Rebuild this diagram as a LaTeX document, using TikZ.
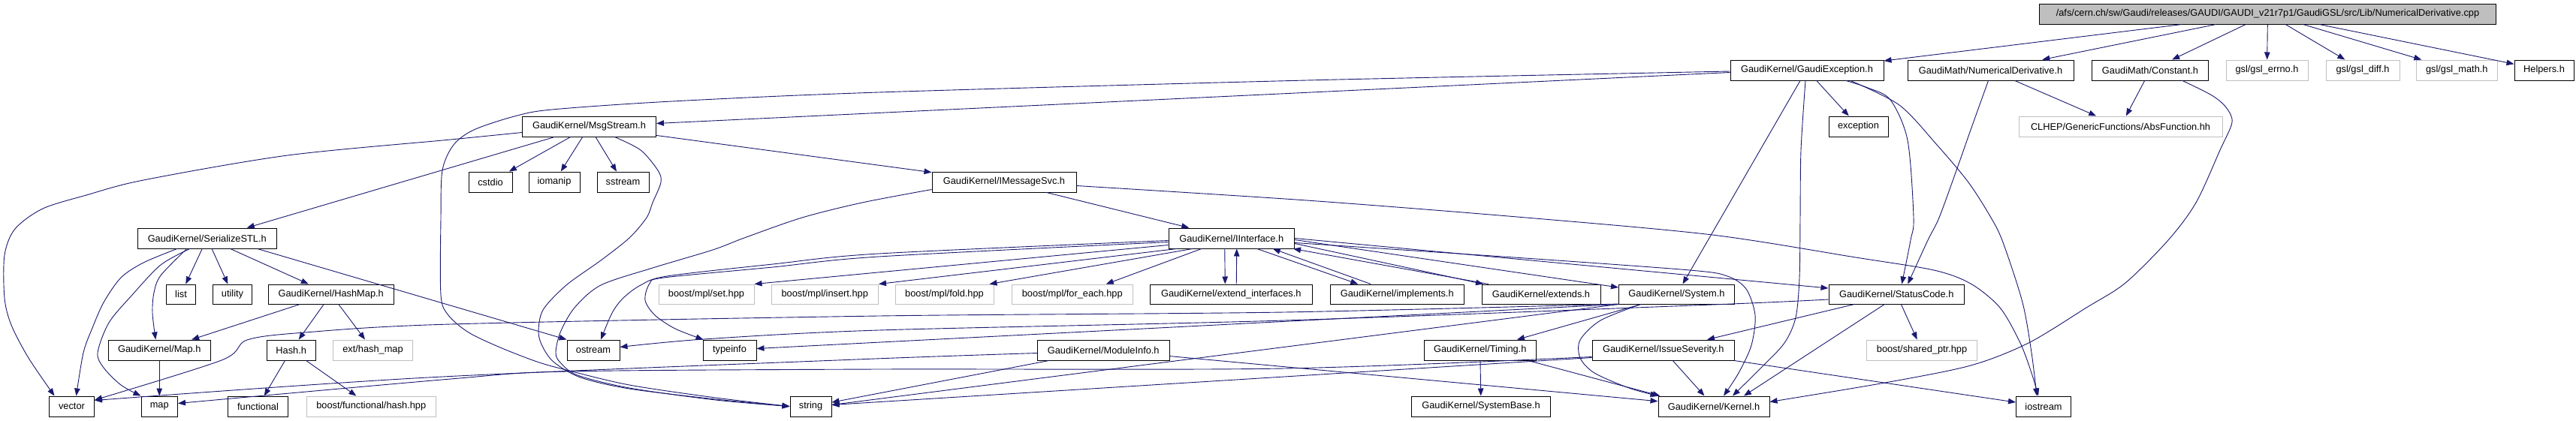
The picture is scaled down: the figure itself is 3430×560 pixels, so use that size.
\documentclass[tikz,border=0pt]{standalone}
\usepackage{fontspec}
\setmainfont{Liberation Sans}
\usetikzlibrary{arrows.meta}
\definecolor{edgec}{HTML}{191970}
\definecolor{gbord}{HTML}{BFBFBF}
\definecolor{rootfill}{HTML}{BFBFBF}
\newcommand\mknode[7]{\node[#1,minimum width={(#5)-(#4)},minimum height={(#7)-(#6)}] (#2) at ({((#4)+(#5))/2},{((#6)+(#7))/2}) {#3};}
\begin{document}
\begin{tikzpicture}[x=1pt,y=-1pt,
  box/.style={draw=black,line width=1pt,inner sep=0pt,font=\fontsize{12.8}{14}\selectfont},
  gbox/.style={box,draw=gbord},
  rootbox/.style={box,fill=rootfill},
  dep/.style={draw=edgec,line width=0.9pt,-{Triangle[length=10pt,width=7.5pt]}}]
\path[use as bounding box,fill=white] (0,0) rectangle (3430,560);
% row 0
\mknode{rootbox}{root}{/afs/cern.ch/sw/Gaudi/releases/GAUDI/GAUDI\_v21r7p1/GaudiGSL/src/Lib/NumericalDerivative.cpp}{2715.5}{3323.5}{5}{32}
% row 1
\mknode{box}{gexc}{GaudiKernel/GaudiException.h}{2304}{2508}{80}{107}
\mknode{box}{nder}{GaudiMath/NumericalDerivative.h}{2540}{2761}{80}{107}
\mknode{box}{const}{GaudiMath/Constant.h}{2785.5}{2940.5}{80}{107}
\mknode{gbox}{gerrno}{gsl/gsl\_errno.h}{2964}{3073}{80}{107}
\mknode{gbox}{gdiff}{gsl/gsl\_diff.h}{3097}{3195}{80}{107}
\mknode{gbox}{gmath}{gsl/gsl\_math.h}{3217}{3325.5}{80}{107}
\mknode{box}{helpers}{Helpers.h}{3348}{3427}{80}{107}
% row 2
\mknode{box}{msg}{GaudiKernel/MsgStream.h}{695.5}{873.5}{155}{182}
\mknode{box}{exc}{exception}{2435}{2514}{155}{182}
\mknode{gbox}{clhep}{CLHEP/GenericFunctions/AbsFunction.hh}{2688}{2959}{155}{182}
% row 3
\mknode{box}{cstdio}{cstdio}{624}{682}{229}{256}
\mknode{box}{iomanip}{iomanip}{704}{772}{229}{256}
\mknode{box}{sstream}{sstream}{795}{864}{229}{256}
\mknode{box}{imsg}{GaudiKernel/IMessageSvc.h}{1241}{1433}{229}{256}
% row 4
\mknode{box}{ser}{GaudiKernel/SerializeSTL.h}{183}{368.5}{304}{331}
\mknode{box}{iint}{GaudiKernel/IInterface.h}{1556}{1723.5}{304}{331}
% row 5
\mknode{box}{list}{list}{221.5}{260.5}{379}{405}
\mknode{box}{utility}{utility}{283.5}{335.5}{379}{405}
\mknode{box}{hashmap}{GaudiKernel/HashMap.h}{357.5}{524}{379}{405}
\mknode{gbox}{mset}{boost/mpl/set.hpp}{877}{1004}{379}{405}
\mknode{gbox}{minsert}{boost/mpl/insert.hpp}{1027}{1169.5}{379}{405}
\mknode{gbox}{mfold}{boost/mpl/fold.hpp}{1192}{1323}{379}{405}
\mknode{gbox}{mforeach}{boost/mpl/for\_each.hpp}{1347}{1508.5}{379}{405}
\mknode{box}{extif}{GaudiKernel/extend\_interfaces.h}{1531.5}{1747}{379}{405}
\mknode{box}{impl}{GaudiKernel/implements.h}{1771}{1949.5}{379}{405}
\mknode{box}{ext}{GaudiKernel/extends.h}{1973}{2131}{379}{405}
\mknode{box}{sys}{GaudiKernel/System.h}{2155.5}{2309.5}{379}{405}
\mknode{box}{sc}{GaudiKernel/StatusCode.h}{2435}{2615.5}{379}{405}
% row 6
\mknode{box}{mapk}{GaudiKernel/Map.h}{144}{280.5}{453}{480}
\mknode{box}{hash}{Hash.h}{355.5}{420}{453}{480}
\mknode{gbox}{exthm}{ext/hash\_map}{443.5}{549.5}{453}{480}
\mknode{box}{ostream}{ostream}{755}{825}{453}{480}
\mknode{box}{typeinfo}{typeinfo}{936}{1007}{453}{480}
\mknode{box}{modinfo}{GaudiKernel/ModuleInfo.h}{1381.5}{1557}{453}{480}
\mknode{box}{timing}{GaudiKernel/Timing.h}{1896}{2045.5}{453}{480}
\mknode{box}{issue}{GaudiKernel/IssueSeverity.h}{2120}{2309.5}{453}{480}
\mknode{gbox}{sptr}{boost/shared\_ptr.hpp}{2485.5}{2632.5}{453}{480}
% row 7
\mknode{box}{vector}{vector}{65.5}{125.5}{528}{555}
\mknode{box}{map}{map}{188}{236.5}{528}{555}
\mknode{box}{functional}{functional}{303.5}{383.5}{528}{555}
\mknode{gbox}{bfhash}{boost/functional/hash.hpp}{408}{580.5}{528}{555}
\mknode{box}{string}{string}{1052}{1107}{528}{555}
\mknode{box}{sysbase}{GaudiKernel/SystemBase.h}{1879.5}{2064.5}{528}{555}
\mknode{box}{kernel}{GaudiKernel/Kernel.h}{2208}{2356}{528}{555}
\mknode{box}{iostream}{iostream}{2684.5}{2757.5}{528}{555}
% ---- edges
\foreach \nn in {gexc,nder,const,gerrno,gdiff,gmath,helpers} \draw[dep] (root) -- (\nn);
% GaudiException
\draw[dep] ([yshift=-3pt]gexc.west) -- ([yshift=4pt]msg.east);
\draw[dep] plot[smooth] coordinates {([yshift=-1.5pt]gexc.west) (1740,107) (1170,123) (895,135) (735,146) (685,155) (631,173) (604,193) (589,227) (587,290) (587,393) (597,420) (624,443) (666,463) (715,482) (754,493) (838,513) (953,530) (string.west)};
\draw[dep] (gexc) -- (exc);
\draw[dep] ([xshift=-9pt]gexc.south) -- ([xshift=8pt]sys.north);
\draw[dep] plot[smooth] coordinates {([xshift=-2pt]gexc.south) (2398,200) (2397,290) (2396,370) (2391,423) (2376,457) (2345,490) ([xshift=25pt]kernel.north)};
\draw[dep] plot[smooth] coordinates {([xshift=52pt]gexc.south) (2487,117) (2517,133) (2540,187) (2548,290) (2544,320) ([xshift=7pt]sc.north)};
\draw[dep] plot[smooth] coordinates {([xshift=58pt]gexc.south) (2529,140) (2579,193) (2621,243) (2651,290) (2667,323) (2693,403) (2705,470) ([xshift=-9pt]iostream.north)};
% NumericalDerivative.h
\draw[dep] (nder) -- (clhep);
\draw[dep] plot[smooth] coordinates {([xshift=-3pt]nder.south) (2624,173) (2605,227) (2582,290) (2567,320) ([xshift=15pt]sc.north)};
% Constant.h
\draw[dep] (const) -- (clhep);
\draw[dep] plot[smooth] coordinates {([xshift=43pt]const.south) (2945,127) (2964,143) (2972,163) (2956,200) (2924,270) (2887,320) (2830,377) (2778,410) (2701,457) (2624,487) (2510,510) ([yshift=6pt]kernel.east)};
% MsgStream.h
\draw[dep] (msg) -- (cstdio);
\draw[dep] (msg) -- (iomanip);
\draw[dep] (msg) -- (sstream);
\draw[dep] (msg) -- (imsg);
\draw[dep] ([xshift=-46pt]msg.south) -- ([xshift=53pt]ser.north);
\draw[dep] plot[smooth] coordinates {([yshift=-8pt]msg.west) (600,186) (383,207) (191,240) (115,260) (57,278) (20,305) (6,340) (6,397) (15,433) (38,477) ([xshift=-23pt]vector.north)};
\draw[dep] plot[smooth] coordinates {([xshift=34pt]msg.south) (853,200) (876,227) (880,243) (869,270) (861,290) (838,317) (800,347) (754,380) (723,413) (717,443) (723,463) (738,483) (773,503) (838,518) (953,532) (string.west)};
% IMessageSvc.h
\draw[dep] (imsg) -- (iint);
\draw[dep] plot[smooth] coordinates {([yshift=-5pt]imsg.east) (1740,267) (2032,290) (2280,313) (2471,343) (2575,360) (2624,378) (2663,410) (2690,457) (2705,497) ([xshift=-7pt]iostream.north)};
\draw[dep] plot[smooth] coordinates {([yshift=-10pt]imsg.west) (1148,270) (1068,290) (991,317) (949,333) (869,357) (800,380) (765,410) (746,443) (740,470) (746,483) (769,500) (838,517) (953,533) (string.west)};
% SerializeSTL.h
\draw[dep] (ser) -- (list);
\draw[dep] (ser) -- (utility);
\draw[dep] (ser) -- (hashmap);
\draw[dep] ([xshift=67pt]ser.south) -- (ostream.north west);
\draw[dep] plot[smooth] coordinates {([xshift=-40pt]ser.south) (191,350) (161,370) (138,403) (123,437) (111,470) ([xshift=6pt]vector.north)};
\draw[dep] plot[smooth] coordinates {([xshift=-23pt]ser.south) (214,353) (176,393) (145,430) (130,470) (138,490) (161,513) (map.north west)};
\draw[dep] plot[smooth] coordinates {([xshift=-27pt]ser.south) (214,367) (205,390) (203,417) ([xshift=-5pt]mapk.north)};
% HashMap.h, Hash.h, Map.h
\draw[dep] (hashmap) -- (mapk);
\draw[dep] (hashmap) -- (hash);
\draw[dep] (hashmap) -- (exthm);
\draw[dep] (hash) -- (functional);
\draw[dep] (hash) -- (bfhash);
\draw[dep] (mapk) -- (map);
% IInterface.h
\draw[dep] ([yshift=-9pt]iint.west) -- (mset.north east);
\draw[dep] ([xshift=-73pt]iint.south) -- (minsert.north east);
\draw[dep] ([xshift=-52pt]iint.south) -- ([xshift=60pt]mfold.north);
\draw[dep] ([xshift=-40pt]iint.south) -- ([xshift=45pt]mforeach.north);
\draw[dep] ([xshift=-9pt]iint.south) -- ([xshift=-8pt]extif.north);
\draw[dep] ([xshift=7pt]extif.north) -- ([xshift=7pt]iint.south);
\draw[dep] ([xshift=34pt]iint.south) -- ([xshift=-52pt]impl.north);
\draw[dep] ([xshift=-35pt]impl.north) -- ([xshift=55pt]iint.south);
\draw[dep] ([yshift=-7pt]iint.east) -- ([xshift=-77pt]ext.north);
\draw[dep] ([xshift=-70pt]ext.north) -- ([xshift=-2pt]iint.south east);
\draw[dep] ([yshift=-2pt]iint.east) -- ([yshift=9pt]sys.west);
\draw[dep] (iint.east) -- ([yshift=8pt]sc.west);
\draw[dep] plot[smooth] coordinates {([yshift=-6pt]iint.east) (2016,343) (2250,360) (2300,368) (2325,385) (2337,420) (2332,460) (2315,497) ([xshift=13pt]kernel.north)};
\draw[dep] plot[smooth] coordinates {([yshift=-3pt]iint.west) (1170,338) (1029,352) (888,368) (853,380) (830,397) (815,417) ([xshift=10pt]ostream.north)};
\draw[dep] plot[smooth] coordinates {([yshift=-5pt]iint.west) (1170,342) (1029,356) (884,370) (865,378) (859,400) (872,420) (899,438) ([xshift=-35pt]typeinfo.north)};
% System.h
\draw[dep] (sys) -- (timing);
\draw[dep] (sys.south west) -- ([yshift=2pt]typeinfo.east);
\draw[dep] (sys.south west) -- ([yshift=2pt]string.east);
\draw[dep] plot[smooth] coordinates {([xshift=-48pt]sys.south) (2131,427) (2104,453) (2104,477) (2123,497) (2169,517) (kernel.north west)};
\draw[dep] plot[smooth] coordinates {([yshift=-13pt]sys.west) (1710,416) (1170,421) (600,432) (406,443) (329,453) (295,480) ([yshift=8.5pt]vector.east)};
% StatusCode.h
\draw[dep] (sc) -- (issue);
\draw[dep] ([xshift=-16pt]sc.south) -- ([xshift=40pt]kernel.north);
\draw[dep] (sc) -- (sptr);
\draw[dep] plot[smooth] coordinates {([yshift=-7pt]sc.west) (2280,406) (1710,427) (1170,440) (937,452) ([yshift=4pt]ostream.east)};
% Timing.h
\draw[dep] (timing) -- (sysbase);
\draw[dep] ([xshift=64pt]timing.south) -- ([xshift=3pt]kernel.north west);
% ModuleInfo.h
\draw[dep] (modinfo) -- (string);
\draw[dep] (modinfo) -- (kernel);
\draw[dep] plot[smooth] coordinates {([yshift=-4pt]modinfo.west) (1140,479) (570,503) ([yshift=8pt]vector.east)};
% IssueSeverity.h
\draw[dep] (issue) -- (kernel);
\draw[dep] (issue) -- (iostream);
\draw[dep] ([yshift=-10pt]issue.west) -- ([yshift=2pt]string.east);
\draw[dep] plot[smooth] coordinates {([yshift=-9pt]issue.west) (1710,491) (1170,492) (754,495) (600,505) ([yshift=4pt]map.east)};
\end{tikzpicture}
\end{document}
